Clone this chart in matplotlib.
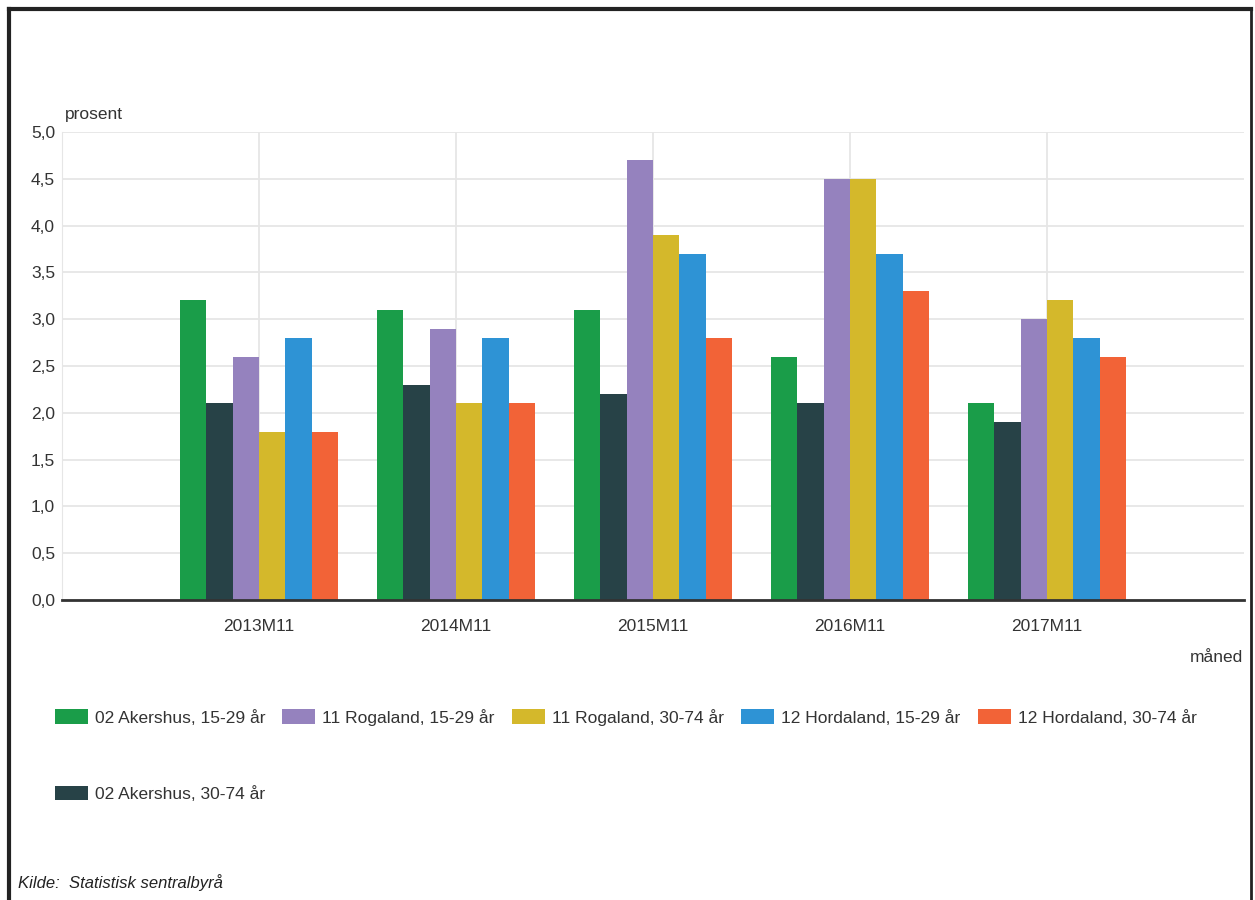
import matplotlib.pyplot as plt
import numpy as np
from matplotlib.lines import Line2D

plt.rcParams['font.family'] = ['Liberation Sans', 'DejaVu Sans']

months = ['2013M11', '2014M11', '2015M11', '2016M11', '2017M11']
series = ['02 Akershus, 15-29 år', '02 Akershus, 30-74 år',
          '11 Rogaland, 15-29 år', '11 Rogaland, 30-74 år',
          '12 Hordaland, 15-29 år', '12 Hordaland, 30-74 år']
akershus_15_29 = [3.2, 3.1, 3.1, 2.6, 2.1]
akershus_30_74 = [2.1, 2.3, 2.2, 2.1, 1.9]
rogaland_15_29 = [2.6, 2.9, 4.7, 4.5, 3.0]
rogaland_30_74 = [1.8, 2.1, 3.9, 4.5, 3.2]
hordaland_15_29 = [2.8, 2.8, 3.7, 3.7, 2.8]
hordaland_30_74 = [1.8, 2.1, 2.8, 3.3, 2.6]
yticks = [0.0, 0.5, 1.0, 1.5, 2.0, 2.5, 3.0, 3.5, 4.0, 4.5, 5.0]

values = [akershus_15_29, akershus_30_74, rogaland_15_29,
          rogaland_30_74, hordaland_15_29, hordaland_30_74]
colors = ['#1a9d49', '#274247', '#9582be', '#d4b82b', '#2e93d5', '#f26337']

fs = 12.5

fig = plt.figure(figsize=(12.55, 9), dpi=100)
ax = fig.add_axes([62 / 1255, 1 - 600 / 900, (1244 - 62) / 1255, (600 - 132) / 900])

x = np.arange(1, len(months) + 1)
w = 0.1345
handles = []
for i, (vals, c) in enumerate(zip(values, colors)):
    b = ax.bar(x + (i - 2.5) * w, vals, width=w, color=c, label=series[i], zorder=3)
    handles.append(b)

ax.set_xlim(0, 6)
ax.set_ylim(0, 5)
ax.set_yticks(yticks)
ax.set_yticklabels([f'{v:.1f}'.replace('.', ',') for v in yticks], fontsize=fs, color='#333333')
ax.set_xticks(x)
ax.set_xticklabels(months, fontsize=fs, color='#333333')
ax.tick_params(axis='x', length=0, pad=14)
ax.tick_params(axis='y', length=0, pad=5)
ax.grid(True, color='#e6e6e6', linewidth=1.3, zorder=0)
for s in ['top', 'right']:
    ax.spines[s].set_visible(False)
ax.spines['left'].set_color('#e6e6e6')
ax.spines['bottom'].set_color('#333333')
ax.spines['bottom'].set_linewidth(2)
ax.spines['bottom'].set_zorder(4)

fig.text(65 / 1255, 1 - 115 / 900, 'prosent', fontsize=fs, color='#333333', va='center')
fig.text(1243 / 1255, 1 - 658 / 900, 'måned', fontsize=fs, color='#333333', va='center', ha='right')
fig.text(18 / 1255, 1 - 883 / 900, 'Kilde:  Statistisk sentralbyrå', fontsize=12,
         style='italic', color='#222222', va='center')

fig.legend(handles=handles, labels=series, ncol=5, loc='upper left',
           bbox_to_anchor=(46 / 1255, 1 - 700 / 900), frameon=False, fontsize=fs,
           borderpad=0, handlelength=1.9, handleheight=0.92, handletextpad=0.4,
           labelspacing=3.45, columnspacing=1.0, labelcolor='#333333')

# outer frame
fig.add_artist(Line2D([9 / 1255, 9 / 1255], [0, 1 - 9 / 900], color='#222222', lw=3))
fig.add_artist(Line2D([9 / 1255, 1251 / 1255], [1 - 9 / 900, 1 - 9 / 900], color='#222222', lw=3))
fig.add_artist(Line2D([1251 / 1255, 1251 / 1255], [0, 1 - 9 / 900], color='#222222', lw=2))

fig.savefig('out.png', dpi=100)
